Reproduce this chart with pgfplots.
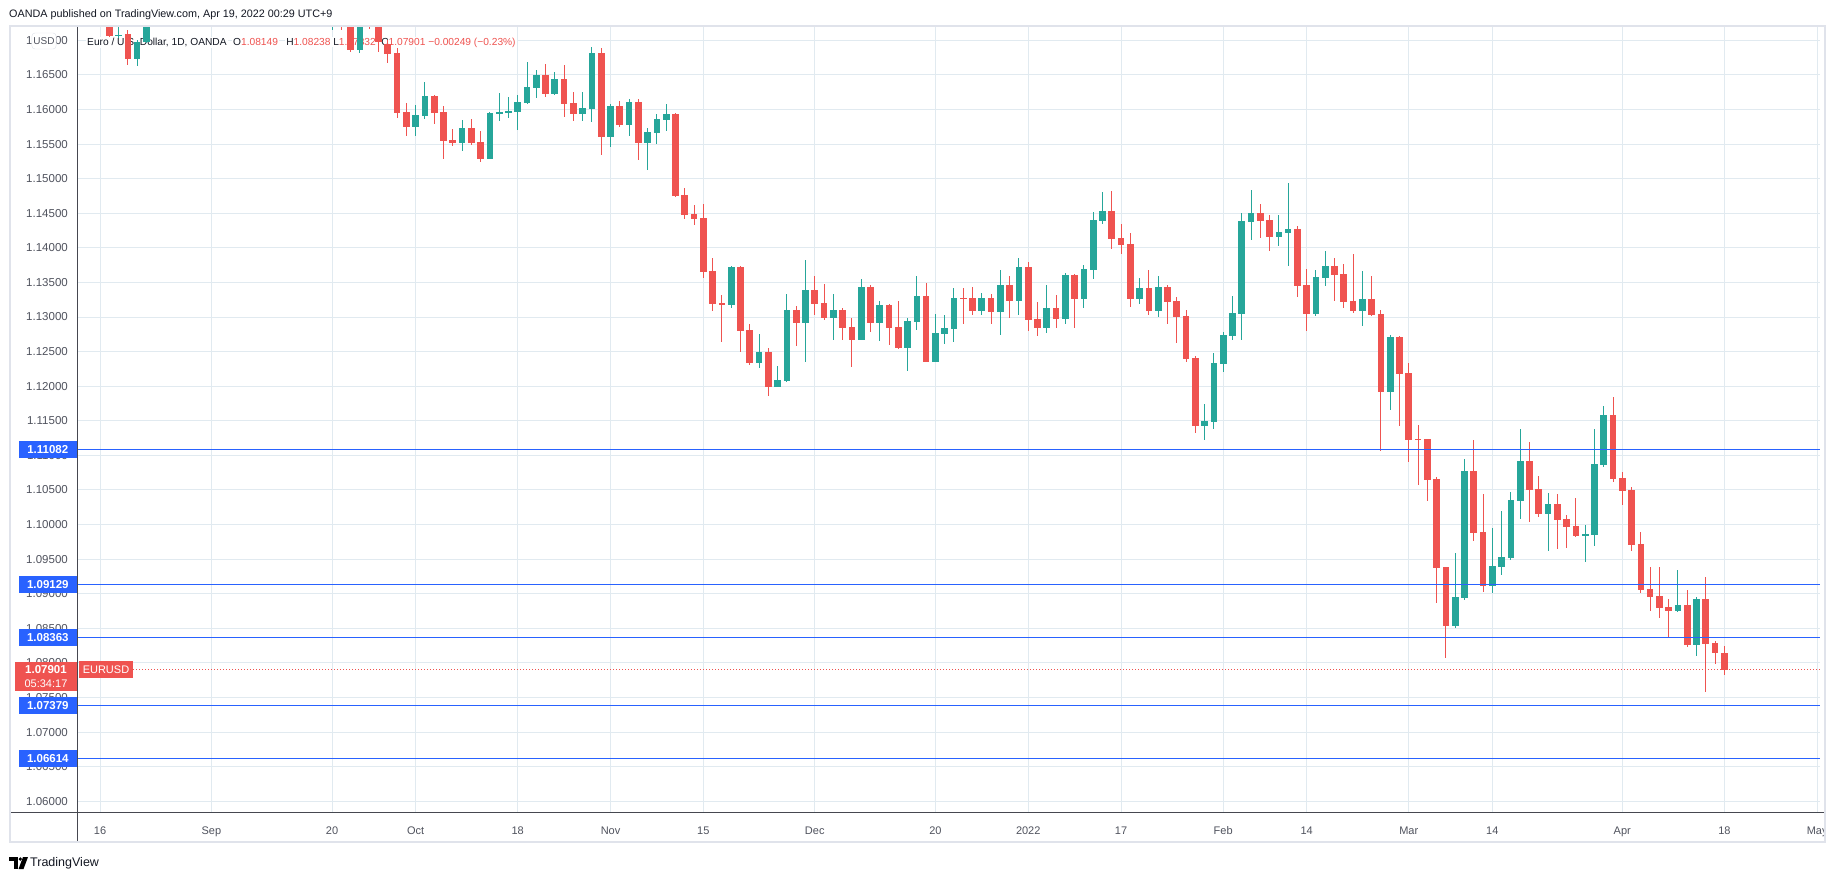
\documentclass[border=0pt]{standalone}
\usepackage{fontspec}
\setmainfont{Liberation Sans}
\usepackage{pgfplots}
\pgfplotsset{compat=1.18}
\usepackage{pgfplotstable}

\definecolor{upc}{HTML}{26A69A}
\definecolor{dnc}{HTML}{EF5350}
\definecolor{gridc}{RGB}{225,234,240}
\definecolor{bluel}{HTML}{2962FF}
\definecolor{txt}{HTML}{131722}
\definecolor{axtxt}{HTML}{50535E}
\definecolor{axline}{RGB}{70,72,80}
\definecolor{panelb}{RGB}{224,227,235}

\pgfplotstableread{
n O H L C
0 1.17900 1.18000 1.17600 1.17750
1 1.17750 1.17820 1.17050 1.17067
2 1.17070 1.17400 1.17040 1.17085
3 1.17092 1.17149 1.16643 1.16735
4 1.16735 1.17005 1.16629 1.16971
5 1.16971 1.17520 1.16960 1.17460
6 1.17450 1.17700 1.17270 1.17550
7 1.17550 1.17720 1.17350 1.17720
8 1.17720 1.17800 1.17400 1.17500
9 1.17500 1.18020 1.17350 1.17950
10 1.17950 1.18100 1.17850 1.17970
11 1.17970 1.18200 1.17950 1.18080
12 1.18080 1.18570 1.18000 1.18370
13 1.18370 1.18730 1.18300 1.18740
14 1.18740 1.19090 1.18570 1.18800
15 1.18800 1.18850 1.18600 1.18680
16 1.18680 1.18700 1.18320 1.18390
17 1.18390 1.18450 1.18020 1.18200
18 1.18200 1.18440 1.18110 1.18260
19 1.18260 1.18450 1.18080 1.18130
20 1.18130 1.18220 1.17700 1.18090
21 1.18090 1.18460 1.17800 1.18020
22 1.18020 1.18300 1.18000 1.18170
23 1.18170 1.18300 1.17520 1.17660
24 1.17660 1.17720 1.17240 1.17260
25 1.17240 1.17600 1.17149 1.17280
26 1.17300 1.17470 1.17149 1.17250
27 1.17260 1.17500 1.16836 1.16865
28 1.16865 1.17480 1.16821 1.17380
29 1.17380 1.17500 1.17170 1.17220
30 1.17220 1.17320 1.16836 1.16971
31 1.16947 1.17005 1.16677 1.16807
32 1.16817 1.16884 1.15882 1.15954
33 1.15964 1.16089 1.15622 1.15752
34 1.15752 1.16065 1.15622 1.15920
35 1.15906 1.16393 1.15863 1.16195
36 1.16195 1.16210 1.15795 1.15954
37 1.15964 1.16051 1.15289 1.15549
38 1.15559 1.15718 1.15477 1.15520
39 1.15520 1.15848 1.15400 1.15728
40 1.15728 1.15863 1.15487 1.15520
41 1.15530 1.15689 1.15246 1.15289
42 1.15289 1.15968 1.15280 1.15949
43 1.15940 1.16239 1.15834 1.15964
44 1.15954 1.16181 1.15877 1.15978
45 1.15964 1.16210 1.15704 1.16108
46 1.16098 1.16687 1.16084 1.16325
47 1.16315 1.16571 1.16166 1.16499
48 1.16499 1.16658 1.16185 1.16229
49 1.16229 1.16542 1.16214 1.16441
50 1.16441 1.16643 1.15891 1.16084
51 1.16094 1.16253 1.15834 1.15939
52 1.15939 1.16253 1.15834 1.16022
53 1.16012 1.16908 1.15819 1.16817
54 1.16817 1.16889 1.15342 1.15607
55 1.15607 1.16080 1.15458 1.16051
56 1.16051 1.16123 1.15747 1.15776
57 1.15776 1.16152 1.15617 1.16108
58 1.16108 1.16152 1.15270 1.15516
59 1.15516 1.15732 1.15125 1.15675
60 1.15660 1.15935 1.15501 1.15863
61 1.15848 1.16080 1.15689 1.15935
62 1.15935 1.15949 1.14740 1.14749
63 1.14764 1.14865 1.14417 1.14475
64 1.14489 1.14619 1.14335 1.14422
65 1.14431 1.14634 1.13569 1.13655
66 1.13665 1.13853 1.13092 1.13193
67 1.13203 1.13318 1.12644 1.13178
68 1.13178 1.13737 1.13135 1.13723
69 1.13723 1.13733 1.12499 1.12803
70 1.12812 1.12899 1.12311 1.12340
71 1.12340 1.12754 1.12268 1.12494
72 1.12494 1.12552 1.11863 1.11993
73 1.11993 1.12292 1.11985 1.12089
74 1.12080 1.13333 1.12065 1.13101
75 1.13101 1.13159 1.12586 1.12918
76 1.12918 1.13824 1.12354 1.13391
77 1.13391 1.13593 1.13034 1.13193
78 1.13203 1.13477 1.12962 1.12991
79 1.12991 1.13333 1.12672 1.13101
80 1.13101 1.13130 1.12672 1.12846
81 1.12856 1.12986 1.12282 1.12672
82 1.12672 1.13550 1.12665 1.13434
83 1.13434 1.13463 1.12788 1.12918
84 1.12918 1.13231 1.12653 1.13174
85 1.13174 1.13188 1.12600 1.12846
86 1.12856 1.13231 1.12542 1.12557
87 1.12557 1.12986 1.12224 1.12942
88 1.12933 1.13593 1.12817 1.13304
89 1.13304 1.13492 1.12350 1.12354
90 1.12354 1.13044 1.12350 1.12769
91 1.12759 1.13029 1.12615 1.12841
92 1.12831 1.13419 1.12644 1.13275
93 1.13275 1.13419 1.12904 1.13265
94 1.13275 1.13434 1.13034 1.13092
95 1.13092 1.13347 1.13034 1.13275
96 1.13275 1.13333 1.12904 1.13077
97 1.13077 1.13680 1.12745 1.13463
98 1.13463 1.13593 1.12991 1.13236
99 1.13236 1.13853 1.13034 1.13723
100 1.13723 1.13795 1.12803 1.12962
101 1.12971 1.13217 1.12730 1.12846
102 1.12846 1.13463 1.12774 1.13130
103 1.13130 1.13318 1.12846 1.12976
104 1.12976 1.13636 1.12904 1.13607
105 1.13607 1.13617 1.12846 1.13265
106 1.13265 1.13752 1.13135 1.13694
107 1.13684 1.14518 1.13554 1.14402
108 1.14393 1.14807 1.14349 1.14533
109 1.14533 1.14822 1.13988 1.14133
110 1.14142 1.14345 1.13916 1.14046
111 1.14056 1.14215 1.13150 1.13265
112 1.13265 1.13564 1.13193 1.13419
113 1.13419 1.13680 1.13034 1.13092
114 1.13092 1.13593 1.13005 1.13434
115 1.13434 1.13463 1.12904 1.13222
116 1.13231 1.13289 1.12629 1.13005
117 1.13015 1.13101 1.12354 1.12398
118 1.12407 1.12436 1.11328 1.11429
119 1.11429 1.11742 1.11227 1.11497
120 1.11487 1.12480 1.11386 1.12335
121 1.12325 1.12783 1.12210 1.12740
122 1.12730 1.13304 1.12672 1.13058
123 1.13048 1.14504 1.12672 1.14388
124 1.14378 1.14836 1.14118 1.14504
125 1.14504 1.14634 1.14147 1.14393
126 1.14402 1.14475 1.13959 1.14162
127 1.14162 1.14475 1.14031 1.14229
128 1.14219 1.14937 1.13742 1.14272
129 1.14272 1.14316 1.13294 1.13453
130 1.13463 1.13694 1.12803 1.13048
131 1.13048 1.13680 1.13019 1.13578
132 1.13569 1.13954 1.13453 1.13737
133 1.13737 1.13853 1.13236 1.13612
134 1.13622 1.13766 1.13135 1.13222
135 1.13231 1.13911 1.13063 1.13092
136 1.13092 1.13665 1.12875 1.13260
137 1.13260 1.13593 1.13019 1.13034
138 1.13044 1.13101 1.11068 1.11921
139 1.11921 1.12740 1.11660 1.12711
140 1.12711 1.12720 1.11429 1.12181
141 1.12191 1.12335 1.10909 1.11227
142 1.11241 1.11439 1.10576 1.11227
143 1.11236 1.11240 1.10345 1.10648
144 1.10658 1.10687 1.08870 1.09376
145 1.09386 1.09390 1.08075 1.08538
146 1.08538 1.09593 1.08509 1.08952
147 1.08943 1.10947 1.08914 1.10774
148 1.10774 1.11222 1.09767 1.09882
149 1.09892 1.10441 1.09029 1.09116
150 1.09116 1.09955 1.09015 1.09400
151 1.09391 1.10200 1.09275 1.09530
152 1.09521 1.10470 1.09492 1.10355
153 1.10345 1.11381 1.10085 1.10918
154 1.10918 1.11198 1.10041 1.10504
155 1.10514 1.10701 1.10114 1.10157
156 1.10157 1.10456 1.09622 1.10297
157 1.10297 1.10441 1.09651 1.10070
158 1.10080 1.10138 1.09665 1.09969
159 1.09979 1.10383 1.09824 1.09839
160 1.09839 1.09993 1.09463 1.09863
161 1.09853 1.11381 1.09694 1.10875
162 1.10865 1.11713 1.10836 1.11583
163 1.11583 1.11844 1.10620 1.10663
164 1.10673 1.10759 1.10287 1.10489
165 1.10499 1.10542 1.09622 1.09709
166 1.09718 1.09892 1.09015 1.09058
167 1.09068 1.09386 1.08755 1.08957
168 1.08967 1.09386 1.08653 1.08793
169 1.08808 1.08923 1.08374 1.08755
170 1.08755 1.09342 1.08740 1.08837
171 1.08837 1.09053 1.08234 1.08263
172 1.08263 1.08952 1.08104 1.08923
173 1.08923 1.09241 1.07584 1.08277
174 1.08287 1.08316 1.07988 1.08150
175 1.08149 1.08238 1.07832 1.07901
}\candles

\begin{document}
\begin{tikzpicture}[x=1pt,y=1pt]
\useasboundingbox (0,0) rectangle (1834,-878);
\fill[white] (0,0) rectangle (1834,-878);
% header
\node[anchor=west, inner sep=0pt, font=\fontsize{10.8}{12}\selectfont, text=txt] at (9,-15) {OANDA published on TradingView.com, Apr 19, 2022 00:29 UTC+9};

\begin{axis}[
  at={(77pt,-812pt)}, anchor=south west,
  scale only axis, width=1743pt, height=785pt,
  xmin=-2.48, xmax=185.3, ymin=1.05844, ymax=1.17193,
  axis line style={draw=none}, major tick length=0pt,
  tick style={draw=none},
  grid=major, major grid style={gridc, line width=1pt},
  xtick={0,12,25,34,45,55,65,77,90,100,110,121,130,141,150,164,175,185},
  xticklabels={16,Sep,20,Oct,18,Nov,15,Dec,20,2022,17,Feb,14,Mar,14,Apr,18,May},
  ytick={1.06,1.065,1.07,1.075,1.08,1.085,1.09,1.095,1.1,1.105,1.11,1.115,1.12,1.125,1.13,1.135,1.14,1.145,1.15,1.155,1.16,1.165,1.17},
  yticklabels={1.06000,1.06500,1.07000,1.07500,1.08000,1.08500,1.09000,1.09500,1.10000,1.10500,1.11000,1.11500,1.12000,1.12500,1.13000,1.13500,1.14000,1.14500,1.15000,1.15500,1.16000,1.16500,1.17000},
  yticklabel style={anchor=east, inner sep=0pt, xshift=-9pt, font=\fontsize{11.5}{13}\selectfont, text=axtxt},
  xticklabel style={anchor=center, inner sep=0pt, yshift=-18pt, text height=8pt, text depth=0pt, font=\fontsize{11}{13}\selectfont, text=axtxt},
  clip=true,
]
% legend text (under candles)
\node[anchor=base west, inner sep=1pt, fill=white, font=\fontsize{10.2}{12}\selectfont, text=txt] at (axis cs:-1.51,1.16925) {Euro / U.S. Dollar, 1D, OANDA};
\node[anchor=base west, inner sep=1pt, fill=white, font=\fontsize{10.2}{12}\selectfont, text=txt] at (axis cs:14.22,1.16925) {O\textcolor{dnc}{1.08149}};
\node[anchor=base west, inner sep=1pt, fill=white, font=\fontsize{10.2}{12}\selectfont, text=txt] at (axis cs:19.94,1.16925) {H\textcolor{dnc}{1.08238}};
\node[anchor=base west, inner sep=1pt, fill=white, font=\fontsize{10.2}{12}\selectfont, text=txt] at (axis cs:25.0,1.16925) {L\textcolor{dnc}{1.07832}};
\node[anchor=base west, inner sep=1pt, fill=white, font=\fontsize{10.2}{12}\selectfont, text=txt] at (axis cs:30.17,1.16925) {C\textcolor{dnc}{1.07901}};
\node[anchor=base west, inner sep=1pt, fill=white, font=\fontsize{10.2}{12}\selectfont, text=dnc] at (axis cs:35.24,1.16925) {−0.00249 (−0.23\%)};

% wicks
\addplot[draw=none, mark=none, forget plot, error bars/.cd, y dir=both, y explicit, error mark=none,
  error bar style={draw=upc, solid, line width=1pt}]
  table[x=n, y expr={\thisrow{C}>=\thisrow{O} ? (\thisrow{H}+\thisrow{L})/2 : nan}, y error expr={(\thisrow{H}-\thisrow{L})/2}] {\candles};
\addplot[draw=none, mark=none, forget plot, error bars/.cd, y dir=both, y explicit, error mark=none,
  error bar style={draw=dnc, solid, line width=1pt}]
  table[x=n, y expr={\thisrow{C}<\thisrow{O} ? (\thisrow{H}+\thisrow{L})/2 : nan}, y error expr={(\thisrow{H}-\thisrow{L})/2}] {\candles};
% bodies
\addplot[draw=none, mark=none, forget plot, error bars/.cd, y dir=both, y explicit, error mark=none,
  error bar style={draw=upc, solid, line width=6.7pt}]
  table[x=n, y expr={\thisrow{C}>=\thisrow{O} ? (\thisrow{O}+\thisrow{C})/2 : nan}, y error expr={max(abs(\thisrow{C}-\thisrow{O})/2,0.00008)}] {\candles};
\addplot[draw=none, mark=none, forget plot, error bars/.cd, y dir=both, y explicit, error mark=none,
  error bar style={draw=dnc, solid, line width=6.7pt}]
  table[x=n, y expr={\thisrow{C}<\thisrow{O} ? (\thisrow{O}+\thisrow{C})/2 : nan}, y error expr={max(abs(\thisrow{C}-\thisrow{O})/2,0.00008)}] {\candles};

% horizontal levels
\addplot[bluel, line width=1.2pt, forget plot] coordinates {(-2.48,1.11082) (185.3,1.11082)};
\addplot[bluel, line width=1.2pt, forget plot] coordinates {(-2.48,1.09129) (185.3,1.09129)};
\addplot[bluel, line width=1.2pt, forget plot] coordinates {(-2.48,1.08363) (185.3,1.08363)};
\addplot[bluel, line width=1.2pt, forget plot] coordinates {(-2.48,1.07379) (185.3,1.07379)};
\addplot[bluel, line width=1.2pt, forget plot] coordinates {(-2.48,1.06614) (185.3,1.06614)};
\addplot[dnc, line width=1pt, dash pattern=on 1pt off 2pt, forget plot] coordinates {(3.56,1.07901) (185.3,1.07901)};

\coordinate (p1) at (axis cs:-2.48,1.11082);
\coordinate (p2) at (axis cs:-2.48,1.09129);
\coordinate (p3) at (axis cs:-2.48,1.08363);
\coordinate (p4) at (axis cs:-2.48,1.07379);
\coordinate (p5) at (axis cs:-2.48,1.06614);
\coordinate (pc) at (axis cs:-2.48,1.07901);
\end{axis}

% clip the cut-off last date label
\fill[white] (1824,-814) rectangle (1834,-841);

% axis separator lines
\draw[axline, line width=1pt] (77,-26) -- (77,-842);
\draw[axline, line width=1pt] (10,-812) -- (1825,-812);
% panel border
\draw[panelb, line width=2pt] (10,-26) rectangle (1825,-842);

% price labels
\foreach \c/\t in {p1/1.11082, p2/1.09129, p3/1.08363, p4/1.07379, p5/1.06614}
  \node[fill=bluel, text=white, font=\bfseries\fontsize{11.5}{12}\selectfont, anchor=east, minimum width=58pt, minimum height=17pt, inner sep=0pt] at (\c) {\t};

% current price label
\fill[dnc] (15,-661.5) rectangle (77,-691);
\node[text=white, inner sep=0pt, font=\bfseries\fontsize{11.5}{12}\selectfont] at (46,-669.7) {1.07901};
\node[text=white, inner sep=0pt, font=\fontsize{11}{12}\selectfont] at (46,-684) {05:34:17};
\fill[dnc] (79,-661) rectangle (133,-678.3);
\node[text=white, inner sep=0pt, font=\fontsize{11}{12}\selectfont] at (106,-669.7) {EURUSD};

% USD badge
\node[draw=panelb, fill=white, rounded corners=3pt, text=axtxt, inner xsep=1.5pt, minimum height=16pt, font=\fontsize{10}{12}\selectfont] at (44,-41) {USD};

% TradingView logo
\fill[black] (9,-857) rectangle (17.5,-860.5);
\fill[black] (13.5,-860.5) rectangle (17.5,-869);
\fill[black] (20.3,-859) circle (1.8);
\fill[black] (23,-857) -- (28,-857) -- (23.5,-869) -- (18.5,-869) -- cycle;
\node[anchor=west, inner sep=0pt, font=\fontsize{12.5}{14}\selectfont, text=txt] at (30,-863) {TradingView};
\end{tikzpicture}
\end{document}
